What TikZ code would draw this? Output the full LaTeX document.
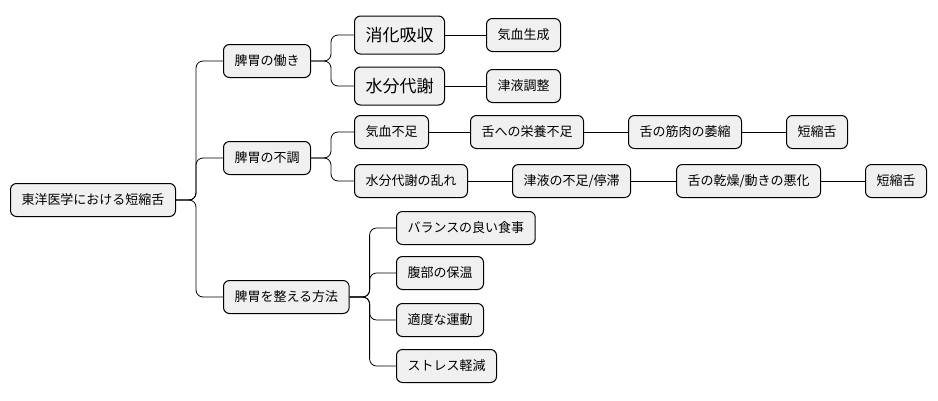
\documentclass[tikz,border=0pt]{standalone}
\usepackage{fontspec}
\setmainfont{Noto Sans CJK JP}
\usetikzlibrary{positioning}
\tikzset{
  topic/.style = {draw = black, line width = 1pt, fill = black!6, rounded corners = 6pt,
    anchor = west, inner xsep = 11pt, minimum height = 33pt, font = \fontsize{13}{15}\selectfont},
  big/.style = {topic, minimum height = 38pt, font = \fontsize{17}{19}\selectfont},
  link/.style = {line width = .8pt, rounded corners = 7pt}
}
\newcommand{\branch}[2]{\draw[link] (#1.east) -- ([xshift=20pt]#1.east) |- (#2.west);}
\begin{document}
\begin{tikzpicture}[x = 1pt, y = -1pt]
  \useasboundingbox (0,0) rectangle (938,400);
  \node[topic] (root) at (10,200) {東洋医学における短縮舌};
  % first level
  \node[topic] (work) at (223,61) {脾胃の働き};
  \node[topic] (ill) at (223,158) {脾胃の不調};
  \node[topic] (care) at (223,297) {脾胃を整える方法};
  \foreach \n in {work, ill, care}{
    \branch{root}{\n}
  }
  % workings
  \node[big] (digest) at (354,35) {消化吸収};
  \node[big] (water) at (354,86) {水分代謝};
  \node[topic] (qi) at (486,35) {気血生成};
  \node[topic] (fluid) at (486,86) {津液調整};
  \branch{work}{digest}
  \branch{work}{water}
  \draw[link] (digest) -- (qi);
  \draw[link] (water) -- (fluid);
  % disorders
  \node[topic] (lack) at (354,132) {気血不足};
  \node[topic] (feed) at (470,132) {舌への栄養不足};
  \node[topic] (shrink) at (628,132) {舌の筋肉の萎縮};
  \node[topic] (shortA) at (786,132) {短縮舌};
  \node[topic] (upset) at (354,181) {水分代謝の乱れ};
  \node[topic] (stag) at (512,181) {津液の不足/停滞};
  \node[topic] (dry) at (676,181) {舌の乾燥/動きの悪化};
  \node[topic] (shortB) at (865,181) {短縮舌};
  \branch{ill}{lack}
  \branch{ill}{upset}
  \draw[link] (lack) -- (feed) -- (shrink) -- (shortA);
  \draw[link] (upset) -- (stag) -- (dry) -- (shortB);
  % remedies
  \foreach \n/\y/\t in {meal/228/バランスの良い食事, warm/273/腹部の保温, move/320/適度な運動, rest/366/ストレス軽減}{
    \node[topic] (\n) at (396,\y) {\t};
    \branch{care}{\n}
  }
\end{tikzpicture}
\end{document}
